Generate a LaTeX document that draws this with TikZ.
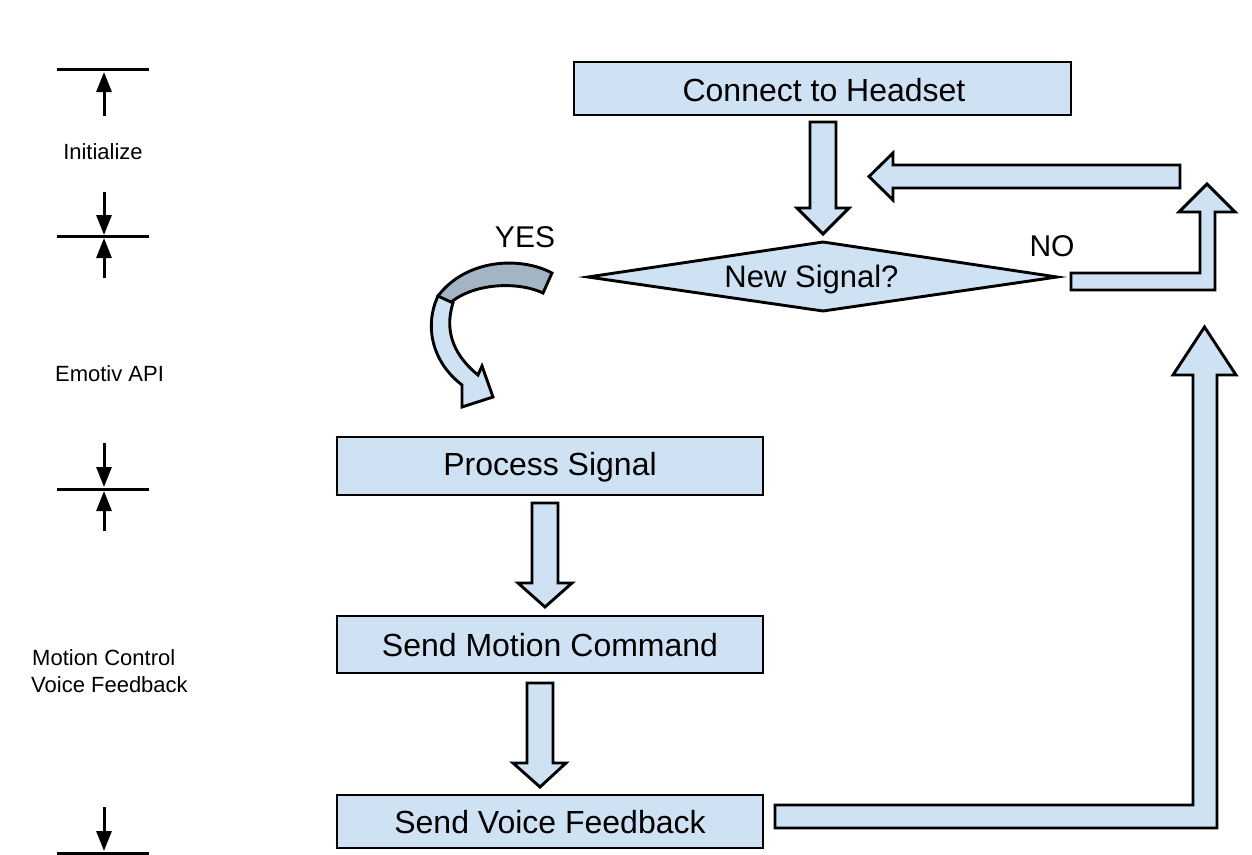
\documentclass[tikz,border=0pt]{standalone}
\usepackage{fontspec}
\setmainfont{Liberation Sans}
\usetikzlibrary{arrows.meta}
\definecolor{boxblue}{HTML}{CFE2F3}
\definecolor{darkband}{HTML}{A3B4C4}
\tikzset{
  box/.style={draw=black, line width=2.9pt, fill=boxblue, inner sep=0pt},
  blockarrow/.style={draw=black, line width=2.9pt, fill=boxblue, line join=miter},
  boxtext/.style={font=\fontsize{32}{38}\selectfont, anchor=base, inner sep=0pt},
  yesno/.style={font=\fontsize{30}{36}\selectfont, anchor=base, inner sep=0pt},
  note/.style={font=\fontsize{22}{27}\selectfont, inner sep=0pt},
  dimline/.style={line width=3pt},
  dimarrow/.style={line width=3pt, -{Triangle[width=15pt,length=20pt]}}
}
\begin{document}
\begin{tikzpicture}[x=1pt,y=-1pt]
\useasboundingbox (0,0) rectangle (1252,854);
\fill[white] (0,0) rectangle (1252,854);

% ---------- left annotations ----------
\draw[dimline] (57,69) -- (149,69);
\draw[dimarrow] (104,116) -- (104,72);
\node[note, anchor=base] (init) at (103,159) {Initialize};

\draw[dimarrow] (104,192) -- (104,235);
\draw[dimline] (57,236) -- (149,236);
\draw[dimarrow] (104,278) -- (104,238);

\node[note, anchor=base] (emotiv) at (109.5,381) {Emotiv API};

\draw[dimarrow] (104,443) -- (104,487);
\draw[dimline] (57,489) -- (149,489);
\draw[dimarrow] (104,531) -- (104,491);

\node[note, anchor=base west] (motion) at (32,665) {Motion Control};
\node[note, anchor=base west] (voicefb) at (31,692) {Voice Feedback};

\draw[dimarrow] (104,807) -- (104,851);
\draw[dimline] (57,853) -- (149,853);

% ---------- boxes ----------
\node[box, minimum width=497pt, minimum height=53pt] (connect) at (822.5,88.5) {};
\node[boxtext] (connectT) at (824,101) {Connect to Headset};

\node[box, minimum width=426pt, minimum height=58pt] (process) at (550,466) {};
\node[boxtext] (processT) at (550,475) {Process Signal};

\node[box, minimum width=426pt, minimum height=57pt] (motioncmd) at (550,644.5) {};
\node[boxtext] (motioncmdT) at (550,656) {Send Motion Command};

\node[box, minimum width=426pt, minimum height=53pt] (voice) at (550,821.5) {};
\node[boxtext] (voiceT) at (550,833) {Send Voice Feedback};

% ---------- decision ----------
\draw[blockarrow] (588,277) -- (823,242) -- (1057,277) -- (823,311) -- cycle;
\node[boxtext, font=\fontsize{31}{37}\selectfont] (signal) at (811.5,287) {New Signal?};

\node[yesno] (yes) at (525,247) {YES};
\node[yesno] (no) at (1052,256) {NO};

% ---------- block arrows ----------
% connect -> decision
\draw[blockarrow] (810,122) -- (836,122) -- (836,208) -- (849,208) -- (823,234) -- (797,208) -- (810,208) -- cycle;
% process -> motion
\draw[blockarrow] (532,503) -- (558,503) -- (558,583) -- (572,583) -- (545,607) -- (518,583) -- (532,583) -- cycle;
% motion -> voice
\draw[blockarrow] (527,683) -- (553,683) -- (553,763) -- (566,763) -- (540,787) -- (513,763) -- (527,763) -- cycle;
% return arrow into decision
\draw[blockarrow] (1180,165) -- (893,165) -- (893,153) -- (869,176.5) -- (893,200) -- (893,188) -- (1180,188) -- cycle;
% NO branch
\draw[blockarrow] (1071,273) -- (1200,273) -- (1200,212) -- (1179,212) -- (1207,184) -- (1235,212) -- (1215,212) -- (1215,290) -- (1071,290) -- cycle;
% voice feedback loop back
\draw[blockarrow] (775,805) -- (1193,805) -- (1193,375) -- (1173,375) -- (1204.5,327) -- (1236,375) -- (1217,375) -- (1217,828) -- (775,828) -- cycle;

% ---------- curved YES arrow ----------
\draw[line width=2.9pt, fill=darkband, line join=miter]
  (552,273) .. controls (520,256) and (466,259) .. (438,296)
  -- (447,306) .. controls (468,284) and (515,280) .. (543,293) -- cycle;
\draw[line width=2.9pt, fill=boxblue, line join=miter]
  (438,296) .. controls (424,326) and (432,362) .. (462,385)
  -- (462,407) -- (493,397) -- (482,366) -- (478,375)
  .. controls (457,358) and (443,334) .. (453,303) -- cycle;
\end{tikzpicture}
\end{document}
